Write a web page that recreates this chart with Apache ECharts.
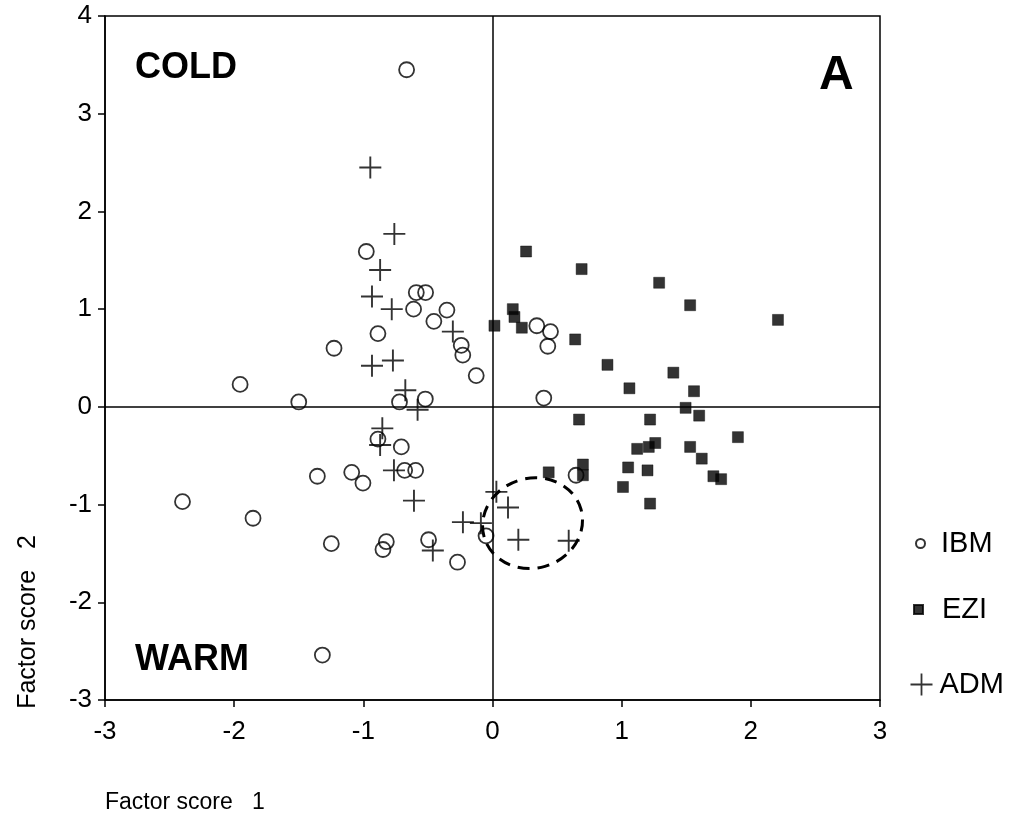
<!DOCTYPE html>
<html>
<head>
<meta charset="utf-8">
<script src="https://cdn.jsdelivr.net/npm/echarts@6/dist/echarts.min.js"></script>
<style>
html,body{margin:0;padding:0;background:#fff;}
#chart{width:1024px;height:831px;}
</style>
</head>
<body>
<div id="chart"></div>
<script>
// ---- Data ----
var xTicks = [-3, -2, -1, 0, 1, 2, 3];
var yTicks = [-3, -2, -1, 0, 1, 2, 3, 4];

var ibm = [
  [-0.665, 3.45], [-0.977, 1.59], [-0.59, 1.17], [-0.518, 1.17], [-0.611, 1.00],
  [-0.353, 0.99], [-0.454, 0.875], [-0.887, 0.75], [-1.227, 0.60], [-0.242, 0.63],
  [-0.23, 0.53], [-0.126, 0.32], [-1.954, 0.23], [-1.50, 0.05], [-0.72, 0.05],
  [-0.52, 0.08], [0.343, 0.83], [0.449, 0.77], [0.428, 0.62], [0.397, 0.09],
  [0.647, -0.70], [-0.887, -0.33], [-0.706, -0.41], [-1.356, -0.71], [-1.09, -0.67],
  [-1.003, -0.78], [-0.68, -0.65], [-0.595, -0.65], [-2.40, -0.97], [-1.854, -1.14],
  [-1.248, -1.40], [-0.822, -1.38], [-0.848, -1.46], [-0.495, -1.36], [-0.271, -1.59],
  [-0.05, -1.32], [-1.317, -2.54]
];

var ezi = [
  [0.26, 1.59], [0.69, 1.41], [1.29, 1.27], [1.53, 1.04], [2.21, 0.89],
  [0.157, 1.00], [0.17, 0.92], [0.227, 0.81], [0.015, 0.83], [0.64, 0.69],
  [0.89, 0.43], [1.40, 0.35], [1.06, 0.19], [1.56, 0.16], [1.495, -0.01],
  [1.60, -0.09], [0.67, -0.13], [1.22, -0.13], [1.90, -0.31], [1.26, -0.37],
  [1.21, -0.41], [1.12, -0.43], [1.53, -0.41], [1.62, -0.53], [0.70, -0.59],
  [0.70, -0.70], [1.05, -0.62], [1.20, -0.65], [0.435, -0.67], [1.71, -0.71],
  [1.77, -0.74], [1.01, -0.82], [1.22, -0.99]
];

var adm = [
  [-0.946, 2.45], [-0.76, 1.77], [-0.87, 1.40], [-0.933, 1.13], [-0.78, 1.00],
  [-0.307, 0.77], [-0.771, 0.475], [-0.933, 0.42], [-0.675, 0.17], [-0.58, -0.03],
  [-0.853, -0.22], [-0.87, -0.39], [-0.763, -0.65], [-0.608, -0.96], [-0.229, -1.18],
  [-0.09, -1.19], [-0.462, -1.47], [0.03, -0.87], [0.12, -1.03], [0.20, -1.36],
  [0.59, -1.37]
];

// dashed ellipse annotation: centre and semi-axes in data units
var ellipseCenter = [0.31, -1.19];
var ellipseRadii = [0.39, 0.46];

var seriesNames = ['IBM', 'EZI', 'ADM'];
var quadrantLabels = ['COLD', 'WARM', 'A'];
var axisTitles = ['Factor score   1', 'Factor score   2'];

// ---- Chart ----
var FONT = '"Liberation Sans", Arial, Helvetica, sans-serif';
var crossPath = 'path://M0,11H22M11,0V22';

var chart = echarts.init(document.getElementById('chart'), null, {renderer: 'canvas'});

var axisCommon = {
  axisLine: {show: true, onZero: false, lineStyle: {color: '#000', width: 1.5}},
  axisTick: {show: true, inside: false, length: 7, lineStyle: {color: '#000', width: 1.5}},
  splitLine: {show: false},
  axisLabel: {color: '#000', fontSize: 26, fontFamily: FONT}
};

var legendText = {fontSize: 29, fontFamily: FONT, color: '#000'};

var option = {
  animation: false,
  backgroundColor: '#fff',
  grid: {left: 105, right: 144, top: 16, bottom: 131, show: true, borderColor: '#000', borderWidth: 1.5, containLabel: false},
  xAxis: Object.assign({}, axisCommon, {
    type: 'value', min: xTicks[0], max: xTicks[xTicks.length - 1], interval: 1,
    axisLabel: Object.assign({}, axisCommon.axisLabel, {margin: 19})
  }),
  yAxis: Object.assign({}, axisCommon, {
    type: 'value', min: yTicks[0], max: yTicks[yTicks.length - 1], interval: 1,
    axisLabel: Object.assign({}, axisCommon.axisLabel, {margin: 13})
  }),
  legend: [
    {data: [{name: seriesNames[0], icon: 'circle'}], orient: 'vertical', left: 915, top: 529, padding: 0,
     itemWidth: 11, itemHeight: 9, selectedMode: false,
     textStyle: Object.assign({}, legendText, {padding: [0, 0, 0, 10]})},
    {data: [{name: seriesNames[1], icon: 'rect'}], orient: 'vertical', left: 913, top: 595, padding: 0,
     itemWidth: 9, itemHeight: 9, selectedMode: false,
     textStyle: Object.assign({}, legendText, {padding: [0, 0, 0, 14]})},
    {data: [{name: seriesNames[2], icon: crossPath}], orient: 'vertical', left: 908, top: 670, padding: 0,
     itemWidth: 22, itemHeight: 22, selectedMode: false,
     itemStyle: {color: 'none', borderColor: '#000', borderWidth: 1.8},
     textStyle: Object.assign({}, legendText, {padding: [0, 0, 0, 2]})}
  ],
  series: [
    {
      name: seriesNames[0], type: 'scatter', data: ibm, symbol: 'circle', symbolSize: 15,
      itemStyle: {color: 'rgba(0,0,0,0)', borderColor: '#000', borderWidth: 1.8},
      emphasis: {disabled: true}, z: 3,
      markLine: {
        silent: true, symbol: 'none', animation: false,
        label: {show: false},
        lineStyle: {color: '#000', type: 'solid', width: 1.5},
        data: [{xAxis: 0}, {yAxis: 0}]
      }
    },
    {
      name: seriesNames[1], type: 'scatter', data: ezi, symbol: 'rect', symbolSize: 11,
      itemStyle: {color: '#000', borderColor: '#000', borderWidth: 0.5}, emphasis: {disabled: true}, z: 4
    },
    {
      name: seriesNames[2], type: 'scatter', data: adm, symbol: crossPath, symbolSize: 22,
      itemStyle: {color: 'none', borderColor: '#000', borderWidth: 1.9},
      emphasis: {disabled: true}, z: 5
    },
    {
      name: 'ellipse', type: 'custom', silent: true, z: 6,
      data: [[ellipseCenter[0], ellipseCenter[1], ellipseRadii[0], ellipseRadii[1]]],
      renderItem: function (params, api) {
        var c = api.coord([api.value(0), api.value(1)]);
        var s = api.size([api.value(2), api.value(3)]);
        return {
          type: 'ellipse',
          shape: {cx: c[0], cy: c[1], rx: s[0], ry: s[1]},
          rotation: 0.28, originX: c[0], originY: c[1],
          style: {fill: 'none', stroke: '#000', lineWidth: 3, lineDash: [12, 8]}
        };
      }
    }
  ],
  graphic: [
    {type: 'text', left: 135, top: 50, style: {text: quadrantLabels[0], font: 'bold 36px ' + FONT, fill: '#000'}},
    {type: 'text', left: 135, top: 642, style: {text: quadrantLabels[1], font: 'bold 36px ' + FONT, fill: '#000'}},
    {type: 'text', left: 819, top: 52, style: {text: quadrantLabels[2], font: 'bold 48px ' + FONT, fill: '#000'}},
    {type: 'text', left: 105, top: 791, style: {text: axisTitles[0], font: '23px ' + FONT, fill: '#000'}},
    {type: 'text', x: 28, y: 622, rotation: Math.PI / 2,
     style: {text: axisTitles[1], font: '25px ' + FONT, fill: '#000', align: 'center', verticalAlign: 'middle'}}
  ]
};

chart.setOption(option);
</script>
</body>
</html>
